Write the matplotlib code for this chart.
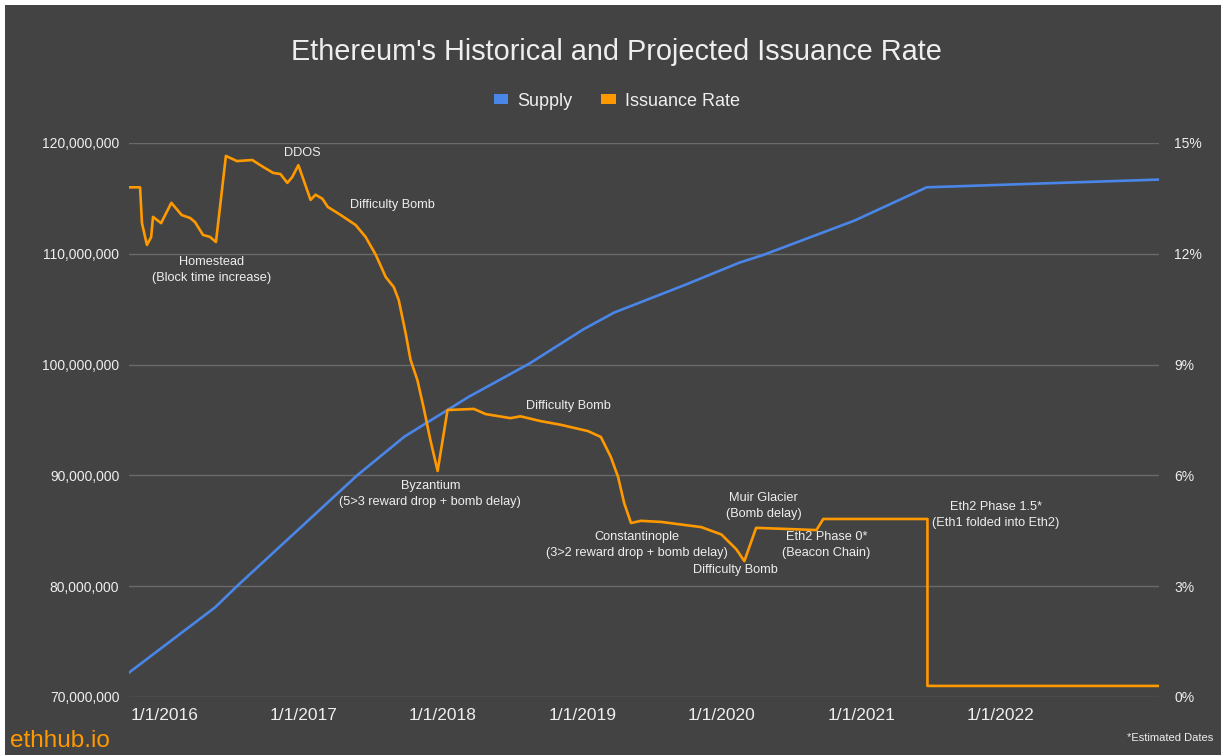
import matplotlib
matplotlib.use('Agg')
import matplotlib.pyplot as plt
import matplotlib.dates as mdates
import matplotlib.transforms as mtransforms
from matplotlib.patches import Patch, Rectangle
from matplotlib.ticker import FuncFormatter
import pandas as pd

plt.rcParams['font.family'] = ['Liberation Sans', 'DejaVu Sans']

# Supply (ETH)
supply_dates = ['2015-07-30', '2016-03-12', '2016-05-11', '2017-03-19', '2017-07-21',
                '2018-01-06', '2018-06-14', '2018-11-03', '2019-01-22', '2019-07-27',
                '2019-12-16', '2020-02-17', '2020-10-13', '2021-04-20', '2022-12-20']
supply_values = [72.2e6, 78.1e6, 80.1e6, 90.0e6, 93.5e6,
                 97.1e6, 100.1e6, 103.2e6, 104.7e6, 107.2e6,
                 109.2e6, 109.9e6, 113.0e6, 116.0e6, 116.7e6]

# Issuance rate (%)
issuance_dates = ['2015-07-30', '2015-08-28', '2015-09-02', '2015-09-15', '2015-09-26',
                  '2015-10-01', '2015-10-22', '2015-11-18', '2015-12-15', '2016-01-06',
                  '2016-01-19', '2016-02-09', '2016-02-27', '2016-03-14', '2016-04-09',
                  '2016-05-08', '2016-06-17', '2016-07-16', '2016-08-11', '2016-08-30',
                  '2016-09-17', '2016-09-30', '2016-10-16', '2016-11-17', '2016-11-30',
                  '2016-12-18', '2017-01-01', '2017-02-04', '2017-03-15', '2017-04-10',
                  '2017-05-07', '2017-06-02', '2017-06-23', '2017-07-06', '2017-07-24',
                  '2017-08-06', '2017-08-24', '2017-09-09', '2017-09-27', '2017-10-16',
                  '2017-11-11', '2018-01-19', '2018-02-19', '2018-04-25', '2018-05-21',
                  '2018-07-13', '2018-09-04', '2018-11-14', '2018-12-18', '2019-01-13',
                  '2019-02-01', '2019-02-17', '2019-03-07', '2019-04-02', '2019-05-25',
                  '2019-09-07', '2019-10-30', '2019-12-08', '2019-12-29', '2020-01-29',
                  '2020-07-05', '2020-07-23', '2021-04-22', '2021-04-22', '2022-12-20']
issuance_values = [13.8, 13.8, 12.83, 12.24, 12.45,
                   13.0, 12.83, 13.38, 13.05, 12.97,
                   12.86, 12.51, 12.46, 12.32, 14.65,
                   14.51, 14.54, 14.35, 14.19, 14.16,
                   13.92, 14.08, 14.4, 13.46, 13.6,
                   13.49, 13.27, 13.05, 12.78, 12.46,
                   11.97, 11.37, 11.1, 10.75, 9.86,
                   9.13, 8.58, 7.85, 6.96, 6.12,
                   7.77, 7.8, 7.66, 7.55, 7.6,
                   7.47, 7.37, 7.2, 7.04, 6.5,
                   5.96, 5.25, 4.71, 4.77, 4.74,
                   4.6, 4.4, 4.0, 3.68, 4.58,
                   4.52, 4.82, 4.82, 0.3, 0.3]

year_ticks = ['2016-01-01', '2017-01-01', '2018-01-01', '2019-01-01',
              '2020-01-01', '2021-01-01', '2022-01-01']

# (text, date, issuance %) for the event notes
events = [
    ('DDOS', '2016-10-27', 14.73),
    ('Difficulty Bomb', '2017-06-20', 13.32),
    ('Homestead\n(Block time increase)', '2016-03-03', 11.56),
    ('Byzantium\n(5>3 reward drop + bomb delay)', '2017-09-27', 5.5),
    ('Difficulty Bomb', '2018-09-23', 7.88),
    ('Constantinople\n(3>2 reward drop + bomb delay)', '2019-03-22', 4.12),
    ('Difficulty Bomb', '2019-12-05', 3.44),
    ('Muir Glacier\n(Bomb delay)', '2020-02-17', 5.17),
    ('Eth2 Phase 0*\n(Beacon Chain)', '2020-07-31', 4.12),
    ('Eth2 Phase 1.5*\n(Eth1 folded into Eth2)', '2021-10-19', 4.93),
]

bg = '#434343'
txt = '#eeeeee'
grid_c = '#6a6a6a'
blue = '#4a86e8'
orange = '#ff9900'

fig = plt.figure(figsize=(12.21, 7.55), dpi=100)
fig.patch.set_facecolor('white')
fig.add_artist(Rectangle((5 / 1221, 0), 1, 1 - 5 / 755, transform=fig.transFigure,
                         facecolor=bg, edgecolor='none', zorder=-10))

ax = fig.add_axes([129 / 1221, 1 - 697 / 755, (1159 - 129) / 1221, (697 - 143) / 755])
ax.set_facecolor('none')
ax2 = ax.twinx()

s_dates = pd.to_datetime(supply_dates)
i_dates = pd.to_datetime(issuance_dates)

ax.plot(s_dates, supply_values, color=blue, lw=1.9, zorder=3)
ax2.plot(i_dates, issuance_values, color=orange, lw=1.9, zorder=3)

ax.set_xlim(s_dates[0], s_dates[-1])
ax.set_ylim(70e6, 120e6)
ax2.set_ylim(0, 15)
ax.set_yticks([70e6, 80e6, 90e6, 100e6, 110e6, 120e6])
ax2.set_yticks([0, 3, 6, 9, 12, 15])
ax.yaxis.set_major_formatter(FuncFormatter(lambda v, p: f'{v:,.0f}'))
ax2.yaxis.set_major_formatter(FuncFormatter(lambda v, p: f'{v:.0f}%'))

ax.set_xticks(pd.to_datetime(year_ticks))
ax.xaxis.set_major_formatter(mdates.DateFormatter('%-m/%-d/%Y'))

ax.grid(axis='y', color=grid_c, lw=1.0)
ax.set_axisbelow(True)
for a in (ax, ax2):
    for sp in a.spines.values():
        sp.set_visible(False)
    a.tick_params(length=0, colors=txt)
ax.tick_params(axis='y', labelsize=10, pad=7)
ax2.tick_params(axis='y', labelsize=10, pad=11)
ax.tick_params(axis='x', labelsize=12.5, pad=8)

shift = mtransforms.ScaledTranslation(-24 / 100, 0, fig.dpi_scale_trans)
for lab in ax.get_xticklabels():
    lab.set_transform(lab.get_transform() + shift)

for label, d, v in events:
    ax2.text(pd.Timestamp(d), v, label, ha='center', va='center', color=txt,
             fontsize=9.2, linespacing=1.38, zorder=4)

fig.text(0.505, 1 - 52 / 755, "Ethereum's Historical and Projected Issuance Rate",
         ha='center', va='center', color=txt, fontsize=20.8)

handles = [Patch(facecolor=blue, edgecolor='none', label='Supply'),
           Patch(facecolor=orange, edgecolor='none', label='Issuance Rate')]
fig.legend(handles=handles, loc='center', bbox_to_anchor=(0.505, 1 - 101 / 755), ncol=2,
           frameon=False, fontsize=13, labelcolor=txt, handlelength=0.8,
           handleheight=0.5, handletextpad=0.5, columnspacing=1.6)

fig.text(10 / 1221, 1 - 741 / 755, 'ethhub.io', ha='left', va='center',
         color=orange, fontsize=17.5)
fig.text(1213 / 1221, 1 - 738 / 755, '*Estimated Dates', ha='right', va='center',
         color=txt, fontsize=8)

fig.savefig('out.png', dpi=100, facecolor=fig.get_facecolor())
